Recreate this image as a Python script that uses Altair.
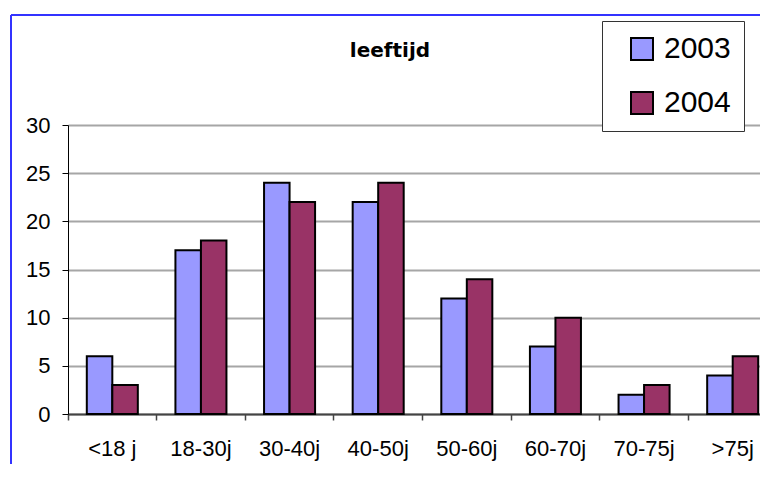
import altair as alt
import pandas as pd

categories = ["<18 j", "18-30j", "30-40j", "40-50j", "50-60j", "60-70j", "70-75j", ">75j"]
v2003 = [6, 17, 24, 22, 12, 7, 2, 4]
v2004 = [3, 18, 22, 24, 14, 10, 3, 6]
years = ["2003", "2004"]
colors = ["#9999ff", "#993366"]
y_ticks = [0, 5, 10, 15, 20, 25, 30]
title_text = "leeftijd"

rows = []
for c, a, b in zip(categories, v2003, v2004):
    rows.append({"cat": c, "year": "2003", "value": a})
    rows.append({"cat": c, "year": "2004", "value": b})
df = pd.DataFrame(rows)

one = pd.DataFrame({"t": [title_text]})

frame_top = alt.Chart(one).mark_rule(color="#3333ff", strokeWidth=2).encode(
    x=alt.value(-57), x2=alt.value(720), y=alt.value(-110)
)
frame_left = alt.Chart(one).mark_rule(color="#3333ff", strokeWidth=2).encode(
    x=alt.value(-57), y=alt.value(-110), y2=alt.value(360)
)
title = alt.Chart(one).mark_text(
    font="DejaVu Sans", fontSize=20, fontWeight="bold", color="black",
    align="center", baseline="alphabetic",
).encode(text="t:N", x=alt.value(322), y=alt.value(-68))

bars = alt.Chart(df).mark_bar(stroke="black", strokeWidth=2).encode(
    x=alt.X(
        "cat:N",
        sort=categories,
        scale=alt.Scale(range=[0, 709], paddingInner=0, paddingOuter=0),
        axis=alt.Axis(
            title=None, labelAngle=0, bandPosition=0, grid=False,
            domainColor="#444444", domainWidth=2, tickColor="#444444", tickWidth=1.5,
            tickSize=6, labelPadding=18, labelFontSize=22, labelFont="Liberation Sans",
            labelColor="black",
        ),
    ),
    xOffset=alt.XOffset(
        "year:N", sort=years, scale=alt.Scale(paddingInner=0, paddingOuter=0.737)
    ),
    y=alt.Y(
        "value:Q",
        scale=alt.Scale(domain=[0, 30], nice=False),
        axis=alt.Axis(
            title=None, values=y_ticks, grid=True, gridColor="#a6a6a6", gridWidth=2,
            domainColor="black", domainWidth=1, tickColor="black", tickSize=6,
            labelPadding=12, labelFontSize=22, labelFont="Liberation Sans", labelColor="black",
        ),
    ),
    color=alt.Color(
        "year:N",
        scale=alt.Scale(domain=years, range=colors),
        legend=alt.Legend(
            title=None, orient="none", legendX=534, legendY=-104,
            labelFontSize=30, labelFont="Liberation Sans", labelColor="black",
            labelExpr="datum.label + ' '",
            symbolType="square", symbolSize=484, symbolStrokeColor="black",
            symbolStrokeWidth=2, symbolOpacity=1,
            fillColor="white", strokeColor="#333333", padding=13, rowPadding=24,
            symbolOffset=12, labelOffset=7,
        ),
    ),
)

chart = alt.layer(frame_top, frame_left, title, bars).properties(
    width=692,
    height=289,
    autosize=alt.AutoSizeParams(type="none"),
    padding={"left": 60, "top": 117, "right": 0, "bottom": 50},
).configure_view(strokeWidth=0)

chart.save("out.html", embed_options={"renderer": "svg", "actions": False})
